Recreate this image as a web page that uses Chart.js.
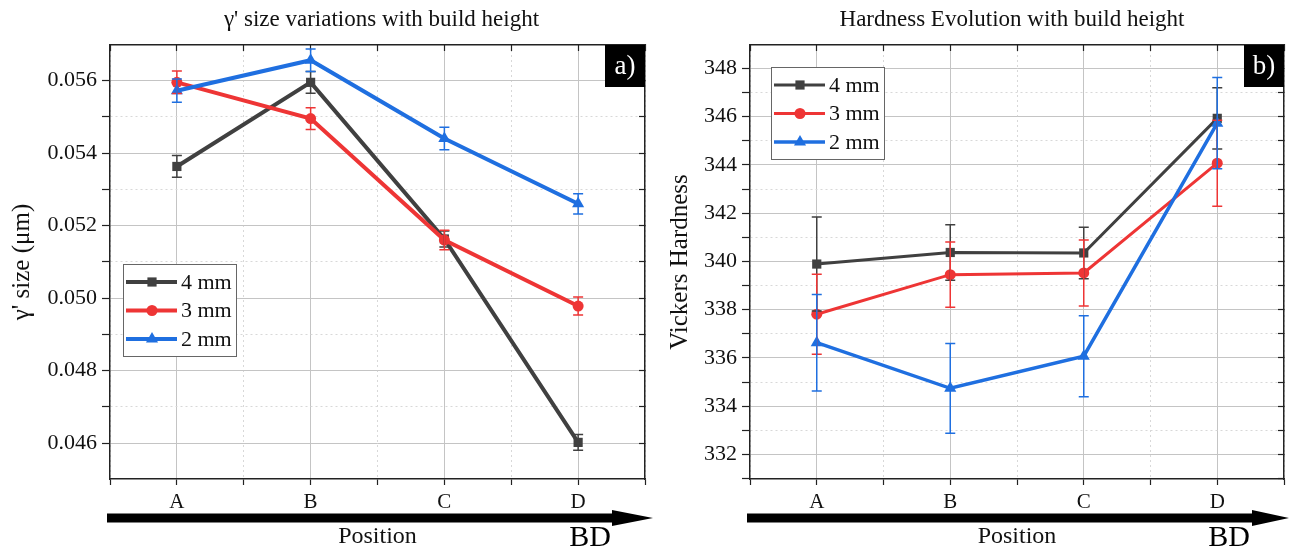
<!DOCTYPE html>
<html>
<head>
<meta charset="utf-8">
<script src="https://cdn.jsdelivr.net/npm/chart.js@4.4.0/dist/chart.umd.min.js"></script>
<style>
  html, body { margin: 0; padding: 0; background: #fff; }
  #wrap { position: relative; width: 1291px; height: 550px; }
  .panel { position: absolute; top: 0; height: 550px; }
  #panelA { left: 0; width: 660px; }
  #panelB { left: 660px; width: 631px; }
</style>
</head>
<body>
<div id="wrap">
  <div class="panel" id="panelA"><canvas id="sizeChart"></canvas></div>
  <div class="panel" id="panelB"><canvas id="hardChart"></canvas></div>
</div>
<script>
// positions along the build direction (x tick labels)
const positions = ['A', 'B', 'C', 'D'];
const seriesNames = ['4 mm', '3 mm', '2 mm'];

// gamma' size (um) per position
const size4mm = [0.05363, 0.05595, 0.05163, 0.04602];
const size3mm = [0.05595, 0.05495, 0.05160, 0.04978];
const size2mm = [0.05572, 0.05656, 0.05440, 0.05260];
const sizeErr4mm = [0.00030, 0.00030, 0.00022, 0.00022];
const sizeErr3mm = [0.00031, 0.00030, 0.00027, 0.00025];
const sizeErr2mm = [0.00032, 0.00031, 0.00031, 0.00028];

// Vickers hardness per position
const hard4mm = [339.89, 340.37, 340.35, 345.93];
const hard3mm = [337.81, 339.45, 339.52, 344.07];
const hard2mm = [336.63, 334.74, 336.07, 345.73];
const hardErr4mm = [1.95, 1.15, 1.07, 1.27];
const hardErr3mm = [1.66, 1.35, 1.37, 1.78];
const hardErr2mm = [2.00, 1.86, 1.68, 1.89];

const colors = ['#404040', '#ee3535', '#1f6fe0'];
const markers = ['rect', 'circle', 'triangle'];
const markerRadius = [6.5, 5.5, 7];

Chart.defaults.font.family = '"Liberation Serif", "Times New Roman", serif';
Chart.defaults.color = '#111';

function makeDatasets(values, errors, widths) {
  return values.map((vals, k) => ({
    label: seriesNames[k],
    data: vals.map((v, i) => ({ x: i, y: v })),
    errors: errors[k],
    borderColor: colors[k],
    backgroundColor: colors[k],
    pointBackgroundColor: colors[k],
    borderWidth: widths[k],
    pointStyle: markers[k],
    pointRadius: markerRadius[k],
    pointBorderWidth: 0,
    tension: 0,
    order: 3 - k
  }));
}

const majorGrid = '#c4c4c4';
const minorGrid = '#d8d8d8';

function xAxes() {
  const isMajor = ctx => ctx.tick && Number.isInteger(ctx.tick.value);
  const base = {
    type: 'linear', min: -0.5, max: 3.5,
    border: { color: '#222', width: 1.5, dash: ctx => (ctx.tick && !isMajor(ctx)) ? [2, 3] : [] }
  };
  return {
    x: Object.assign({}, base, {
      position: 'bottom',
      afterFit: s => { s.height = 71; },
      ticks: {
        stepSize: 0.5, autoSkip: false, maxRotation: 0, includeBounds: false, padding: 5,
        font: { size: 21 }, color: '#111',
        callback: v => Number.isInteger(v) ? positions[v] : ''
      },
      grid: { color: ctx => isMajor(ctx) ? majorGrid : minorGrid, tickLength: 6, tickColor: '#222', tickWidth: 1.2 },
      title: { display: true, text: 'Position', font: { size: 24, lineHeight: 1.1 }, padding: { top: 0, bottom: 0 }, color: '#111' }
    }),
    x2: Object.assign({}, base, {
      position: 'top',
      afterFit: s => { s.height = 0; },
      ticks: { stepSize: 0.5, display: false, includeBounds: false },
      grid: { drawOnChartArea: false, tickLength: -6, tickColor: '#222', tickWidth: 1.2 }
    })
  };
}

function yAxes(min, max, step, major, fmt, title, width, titlePad) {
  const isMajor = ctx => ctx.tick && Math.abs(ctx.tick.value / major - Math.round(ctx.tick.value / major)) < 1e-4;
  const base = {
    type: 'linear', min: min, max: max,
    border: { color: '#222', width: 1.5, dash: ctx => (ctx.tick && !isMajor(ctx)) ? [2, 3] : [] }
  };
  return {
    y: Object.assign({}, base, {
      position: 'left',
      afterFit: s => { s.width = width; },
      ticks: {
        stepSize: step, autoSkip: false, includeBounds: false, padding: 5,
        font: { size: 22 }, color: '#111',
        callback: v => (Math.abs(v / major - Math.round(v / major)) < 1e-4) ? fmt(v) : ''
      },
      grid: { color: ctx => isMajor(ctx) ? majorGrid : minorGrid, tickLength: 8, tickColor: '#222', tickWidth: 1.2 },
      title: { display: true, text: title, font: { size: 25, lineHeight: 1.2 }, padding: { top: titlePad, bottom: 0 }, color: '#111' }
    }),
    y2: Object.assign({}, base, {
      position: 'right',
      afterFit: s => { s.width = 0; },
      ticks: { stepSize: step, display: false, includeBounds: false },
      grid: { drawOnChartArea: false, tickLength: -6, tickColor: '#222', tickWidth: 1.2 }
    })
  };
}

// error bars drawn from each dataset's errors array through the chart scales
const errorBars = {
  id: 'errorBars',
  afterDatasetsDraw(chart) {
    const { ctx, scales: { x, y } } = chart;
    const metas = chart.getSortedVisibleDatasetMetas().slice().reverse();
    metas.forEach(meta => {
      const ds = chart.data.datasets[meta.index];
      ctx.save();
      ctx.strokeStyle = ds.borderColor;
      ctx.lineWidth = 1.5;
      ds.data.forEach((p, i) => {
        const px = x.getPixelForValue(p.x);
        const top = y.getPixelForValue(p.y + ds.errors[i]);
        const bot = y.getPixelForValue(p.y - ds.errors[i]);
        ctx.beginPath();
        ctx.moveTo(px, top); ctx.lineTo(px, bot);
        ctx.moveTo(px - 5, top); ctx.lineTo(px + 5, top);
        ctx.moveTo(px - 5, bot); ctx.lineTo(px + 5, bot);
        ctx.stroke();
      });
      ctx.restore();
    });
  }
};

// boxed legend inside the plot
const boxLegend = {
  id: 'boxLegend',
  afterDraw(chart, args, opts) {
    const { ctx, chartArea: a } = chart;
    const bx = a.left + opts.dx, by = a.top + opts.dy;
    ctx.save();
    ctx.fillStyle = '#fff';
    ctx.fillRect(bx, by, 113, 92);
    ctx.strokeStyle = '#666';
    ctx.lineWidth = 1;
    ctx.strokeRect(bx + 0.5, by + 0.5, 113, 92);
    chart.data.datasets.forEach((ds, k) => {
      const ry = by + 18 + k * 28.5;
      ctx.strokeStyle = ds.borderColor;
      ctx.lineWidth = ds.borderWidth;
      ctx.beginPath();
      ctx.moveTo(bx + 3, ry); ctx.lineTo(bx + 54, ry);
      ctx.stroke();
      ctx.fillStyle = ds.borderColor;
      Chart.helpers.drawPoint(ctx, { pointStyle: ds.pointStyle, radius: ds.pointRadius, rotation: 0, borderWidth: 0 }, bx + 29, ry);
      ctx.fillStyle = '#111';
      ctx.font = '22px "Liberation Serif"';
      ctx.textAlign = 'left';
      ctx.textBaseline = 'middle';
      ctx.fillText(ds.label, bx + 58, ry + 1);
    });
    ctx.restore();
  }
};

// panel title, corner tag, build-direction arrow
const panelDeco = {
  id: 'panelDeco',
  afterDraw(chart, args, opts) {
    const { ctx, chartArea: a } = chart;
    ctx.save();
    ctx.fillStyle = '#111';
    ctx.font = '23px "Liberation Serif"';
    ctx.textAlign = 'center';
    ctx.textBaseline = 'middle';
    ctx.fillText(opts.title, (a.left + a.right) / 2 + opts.titleShift, 20);

    ctx.fillStyle = '#000';
    ctx.fillRect(a.right - 40, a.top, 40, 42);
    ctx.fillStyle = '#fff';
    ctx.font = '27px "Liberation Serif"';
    ctx.fillText(opts.tag, a.right - 20, a.top + 22);

    const tip = a.right + opts.tipOffset;
    const headStart = tip - opts.headLen;
    const sy = a.bottom + 39;
    ctx.fillStyle = '#000';
    ctx.fillRect(a.left - 3, sy - 4.5, headStart - a.left + 4, 9);
    ctx.beginPath();
    ctx.moveTo(headStart, sy - 8);
    ctx.lineTo(tip, sy);
    ctx.lineTo(headStart, sy + 8);
    ctx.closePath();
    ctx.fill();

    ctx.font = '30px "Liberation Serif"';
    ctx.fillText('BD', a.right - 55, 538);
    ctx.restore();
  }
};

function makeChart(id, datasets, yScales, deco, legendPos, padRight) {
  return new Chart(document.getElementById(id), {
    type: 'line',
    data: { datasets: datasets },
    options: {
      responsive: true,
      maintainAspectRatio: false,
      animation: false,
      layout: { padding: { top: 45, right: padRight, bottom: 0, left: 0 } },
      scales: Object.assign({}, xAxes(), yScales),
      plugins: {
        legend: { display: false },
        tooltip: { enabled: false },
        boxLegend: legendPos,
        panelDeco: deco
      }
    },
    plugins: [errorBars, boxLegend, panelDeco]
  });
}

makeChart('sizeChart',
  makeDatasets([size4mm, size3mm, size2mm], [sizeErr4mm, sizeErr3mm, sizeErr2mm], [4, 4, 4]),
  yAxes(0.04501, 0.05698, 0.001, 0.002, v => v.toFixed(3), "\u03b3' size (\u03bcm)", 110, 7),
  { title: "\u03b3' size variations with build height", titleShift: 4, tag: 'a)', tipOffset: 8, headLen: 41 },
  { dx: 13, dy: 219 }, 15);

makeChart('hardChart',
  makeDatasets([hard4mm, hard3mm, hard2mm], [hardErr4mm, hardErr3mm, hardErr2mm], [3, 3, 3.5]),
  yAxes(330.98, 348.97, 1, 2, v => String(Math.round(v)), 'Vickers Hardness', 90, 5),
  { title: 'Hardness Evolution with build height', titleShift: -5, tag: 'b)', tipOffset: 5, headLen: 37 },
  { dx: 21, dy: 22 }, 5);
</script>
</body>
</html>
